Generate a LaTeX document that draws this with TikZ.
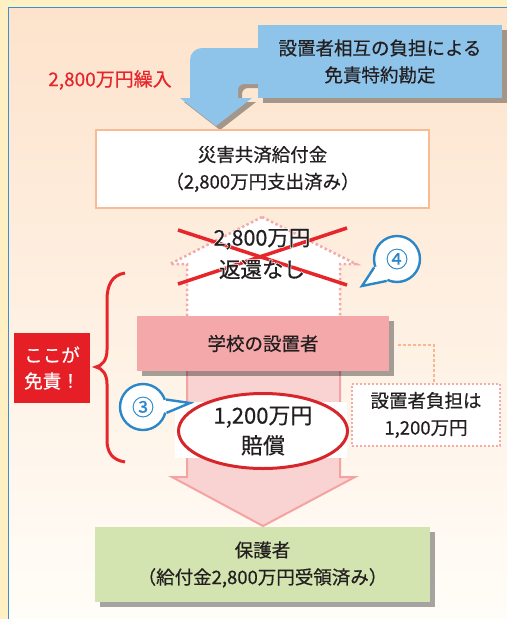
\documentclass[tikz,border=0pt]{standalone}
\usepackage{fontspec}
\setmainfont{Noto Sans CJK JP}[FakeBold=0.5]
\newfontfamily\halofont{Noto Sans CJK JP}[FakeBold=7]
\usetikzlibrary{shapes.geometric,shadows,calc}
\definecolor{bgyellow}{HTML}{FEF0C2}
\definecolor{paneltop}{HTML}{FDE3CC}
\definecolor{panelbot}{HTML}{FFFDF8}
\definecolor{panelline}{HTML}{3D8FD1}
\definecolor{blueshape}{HTML}{8EC3EA}
\definecolor{textc}{HTML}{231F20}
\definecolor{redc}{HTML}{E6262B}
\definecolor{orangeb}{HTML}{F8BB93}
\definecolor{pinkdot}{HTML}{F4AAA9}
\definecolor{pinkbox}{HTML}{F5A8AA}
\definecolor{pinkfill}{HTML}{F9D3D2}
\definecolor{pinkline}{HTML}{F5A2A3}
\definecolor{circblue}{HTML}{2C87C9}
\definecolor{greenbox}{HTML}{D3E4B0}
\definecolor{redbox}{HTML}{E61E25}
\definecolor{ellred}{HTML}{D7262B}
\definecolor{connorange}{HTML}{F9B790}
\begin{document}
\begin{tikzpicture}[x=1pt,y=-1pt,
  shadowed/.style={drop shadow={shadow xshift=5pt, shadow yshift=-5pt, fill=black, opacity=.35}},
  txt/.style={font=\fontsize{18.5}{27}\selectfont, text=textc, align=center, inner sep=0pt},
  boxbase/.style={txt, rectangle, minimum width=#1},
  bubblec/.style={circle, draw=circblue, fill=white, line width=2.4pt, minimum size=46pt, inner sep=0pt},
  bubline/.style={draw=circblue, line width=2.4pt, line join=miter},
  xline/.style={draw=redc, line width=3.5pt},
  dotline/.style={dash pattern=on 2.5pt off 2.5pt, line width=2.5pt}
]
\useasboundingbox (0,0) rectangle (507,619);
% background
\fill[bgyellow] (0,0) rectangle (507,619);
\shade[top color=paneltop, bottom color=panelbot] (8,7) rectangle (507,619);
\draw[panelline, line width=1pt] (8,619) -- (8,7) -- (507,7);

% blue bent arrow (shadow + shape)
\fill[black, opacity=.35, shift={(4,4)}] (262,48) -- (202,48) .. controls (195.4,48) and (190,53.4) .. (190,60) -- (190,98) -- (180,98) -- (216,126) -- (252,98) -- (238,98) -- (238,90) .. controls (238,86.7) and (240.7,84) .. (244,84) -- (262,84) -- cycle;
\fill[blueshape] (262,48) -- (202,48) .. controls (195.4,48) and (190,53.4) .. (190,60) -- (190,98) -- (180,98) -- (216,126) -- (252,98) -- (238,98) -- (238,90) .. controls (238,86.7) and (240.7,84) .. (244,84) -- (262,84) -- cycle;
\node[boxbase=244pt, minimum height=73pt, fill=blueshape, shadowed] (rule) at (380,61.5) {設置者相互の負担による\\免責特約勘定};
\node[font=\fontsize{19}{22}\selectfont, text=redc, inner sep=0pt] (kurire) at (110,80) {2,800万円繰入};

% title box
\node[boxbase=333pt, minimum height=78pt, fill=white, draw=orangeb, line width=2.5pt] (kyosai) at (262.5,169) {災害共済給付金\\（2,800万円支出済み）};

% dotted up arrow
\filldraw[fill=white, draw=pinkdot, dotline] (262,217) -- (356,264) -- (340,264) -- (340,318) -- (187,318) -- (187,264) -- (170,264) -- cycle;
\draw[xline] (178,230) -- (347,285);
\draw[xline] (178,284) -- (347,228);
\node[txt, font=\halofont\fontsize{21.5}{32}\selectfont, text=white] (halo) at (262,254) {2,800万円\\返還なし};
\node[txt, font=\fontsize{21.5}{32}\selectfont] (henkan) at (halo) {2,800万円\\返還なし};

% bubble 4
\node[bubblec] (b4) at (397,259) {};
\fill[white] (b4.center) -- (b4.200) -- (362,286) -- (b4.245) -- cycle;
\draw[bubline] (b4.200) -- (362,286) -- (b4.245);
\node[text=circblue, font=\fontsize{22}{24}\selectfont, inner sep=0pt] (n4) at (b4.center) {④};

% pink down arrow
\filldraw[fill=pinkfill, draw=pinkline, line width=2pt] (187,360) -- (187,477) -- (172,477) -- (263,526) -- (355,477) -- (340,477) -- (340,360);

% school box
\node[boxbase=252pt, minimum height=55pt, fill=pinkbox, shadowed] (school) at (263,343.5) {学校の設置者};

% compensation ellipse
\fill[white] (175,402) rectangle (347,458);
\node[ellipse, draw=ellred, fill=white, line width=3pt, minimum width=169pt, minimum height=75pt, inner sep=0pt, txt, font=\fontsize{22}{30}\selectfont] (baisho) at (263,431) {1,200万円\\賠償};

% bubble 3
\node[bubblec] (b3) at (143,407) {};
\fill[white] (b3.center) -- (b3.18) -- (190,403) -- (b3.346) -- cycle;
\draw[bubline] (b3.18) -- (190,403) -- (b3.346);
\node[text=circblue, font=\fontsize{22}{24}\selectfont, inner sep=0pt] (n3) at (b3.center) {③};

% brace
\draw[redc, line width=3pt] (125,273) .. controls (112,275) and (107,285) .. (107,300) -- (107,350) .. controls (107,360) and (102,366) .. (96,367) .. controls (102,368) and (107,374) .. (107,384) -- (107,440) .. controls (107,452) and (112,460) .. (125,462);

% red box
\node[boxbase=76pt, minimum height=70pt, fill=redbox, text=white, font=\fontsize{18.5}{26}\selectfont] (menseki) at (52,368) {ここが\\免責！};

% dotted burden box + connector
\node[boxbase=148pt, minimum height=62pt, fill=white, draw=pinkdot, dash pattern=on 2pt off 2pt, line width=2pt] (futan) at (426,415) {設置者負担は\\1,200万円};
\draw[connorange, dash pattern=on 2.5pt off 2.5pt, line width=2pt] ($(school.east)+(9,1.5)$) -| ($(futan.north)+(8,0)$);

% guardian box
\node[boxbase=335pt, minimum height=75pt, fill=greenbox, shadowed] (hogosha) at (262.5,564.5) {保護者\\（給付金2,800万円受領済み）};
\end{tikzpicture}
\end{document}
